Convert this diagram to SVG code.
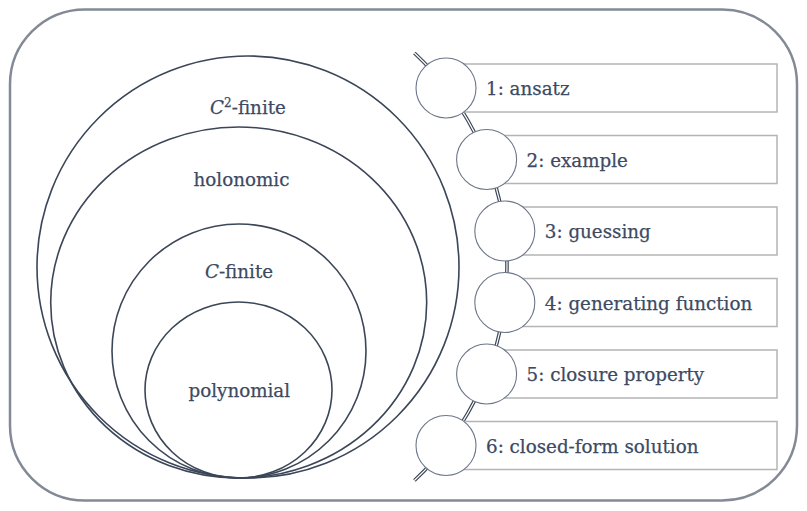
<svg xmlns="http://www.w3.org/2000/svg" width="807" height="511" viewBox="0 0 807 511">
<style>
.frame{fill:#ffffff;stroke:#838a96;stroke-width:2.5}
.set{fill:none;stroke:#3b4658;stroke-width:1.6}
.lbl{font-family:"DejaVu Serif","Liberation Serif",serif;font-size:18.3px;fill:#3c4a63;stroke:#3c4a63;stroke-width:0.25}
.lbl-l{text-anchor:middle}
.box{fill:#ffffff;stroke:#b4b4b4;stroke-width:1.5}
.node{fill:#ffffff;stroke:#6b7689;stroke-width:1.1}
.chain-o{fill:none;stroke:#3b4658;stroke-width:3.6}
.chain-i{fill:none;stroke:#ffffff;stroke-width:1.2}
</style>
<rect class="frame" x="10" y="9.5" width="787" height="491" rx="75" ry="75"/>
<g id="sets">
  <g id="c2finite"><circle class="set" cx="248" cy="267" r="211"/><text class="lbl lbl-l" x="248" y="114"><tspan font-style="italic">C</tspan><tspan font-size="12" dy="-7">2</tspan><tspan dy="7">-finite</tspan></text></g>
  <g id="holonomic"><ellipse class="set" cx="238.7" cy="302.5" rx="188" ry="175.5"/><text class="lbl lbl-l" x="241.5" y="186">holonomic</text></g>
  <g id="cfinite"><circle class="set" cx="239" cy="351" r="127"/><text class="lbl lbl-l" x="239" y="278"><tspan font-style="italic">C</tspan>-finite</text></g>
  <g id="polynomial"><ellipse class="set" cx="238.5" cy="390" rx="93.5" ry="88"/><text class="lbl lbl-l" x="239.3" y="396.5">polynomial</text></g>
</g>
<g id="connectors">
  <path class="chain-o" d="M 414.4 53 A 293 293 0 0 1 414.4 480.5"/>
  <path class="chain-i" d="M 414.4 53 A 293 293 0 0 1 414.4 480.5"/>
</g>
<g id="step1"><rect class="box" x="446" y="64" width="331" height="48"/><circle class="node" cx="446" cy="88" r="30"/><text class="lbl" x="486" y="95">1: ansatz</text></g>
<g id="step2"><rect class="box" x="486.6" y="135.5" width="290.4" height="48"/><circle class="node" cx="486.6" cy="159.5" r="30"/><text class="lbl" x="526.6" y="166.5">2: example</text></g>
<g id="step3"><rect class="box" x="504.8" y="207" width="272.2" height="48"/><circle class="node" cx="504.8" cy="231" r="30"/><text class="lbl" x="544.8" y="238">3: guessing</text></g>
<g id="step4"><rect class="box" x="504.8" y="278.5" width="272.2" height="48"/><circle class="node" cx="504.8" cy="302.5" r="30"/><text class="lbl" x="544.8" y="309.5">4: generating function</text></g>
<g id="step5"><rect class="box" x="486.6" y="350" width="290.4" height="48"/><circle class="node" cx="486.6" cy="374" r="30"/><text class="lbl" x="526.6" y="381">5: closure property</text></g>
<g id="step6"><rect class="box" x="446" y="421.5" width="331" height="48"/><circle class="node" cx="446" cy="445.5" r="30"/><text class="lbl" x="486" y="452.5">6: closed-form solution</text></g>
</svg>
